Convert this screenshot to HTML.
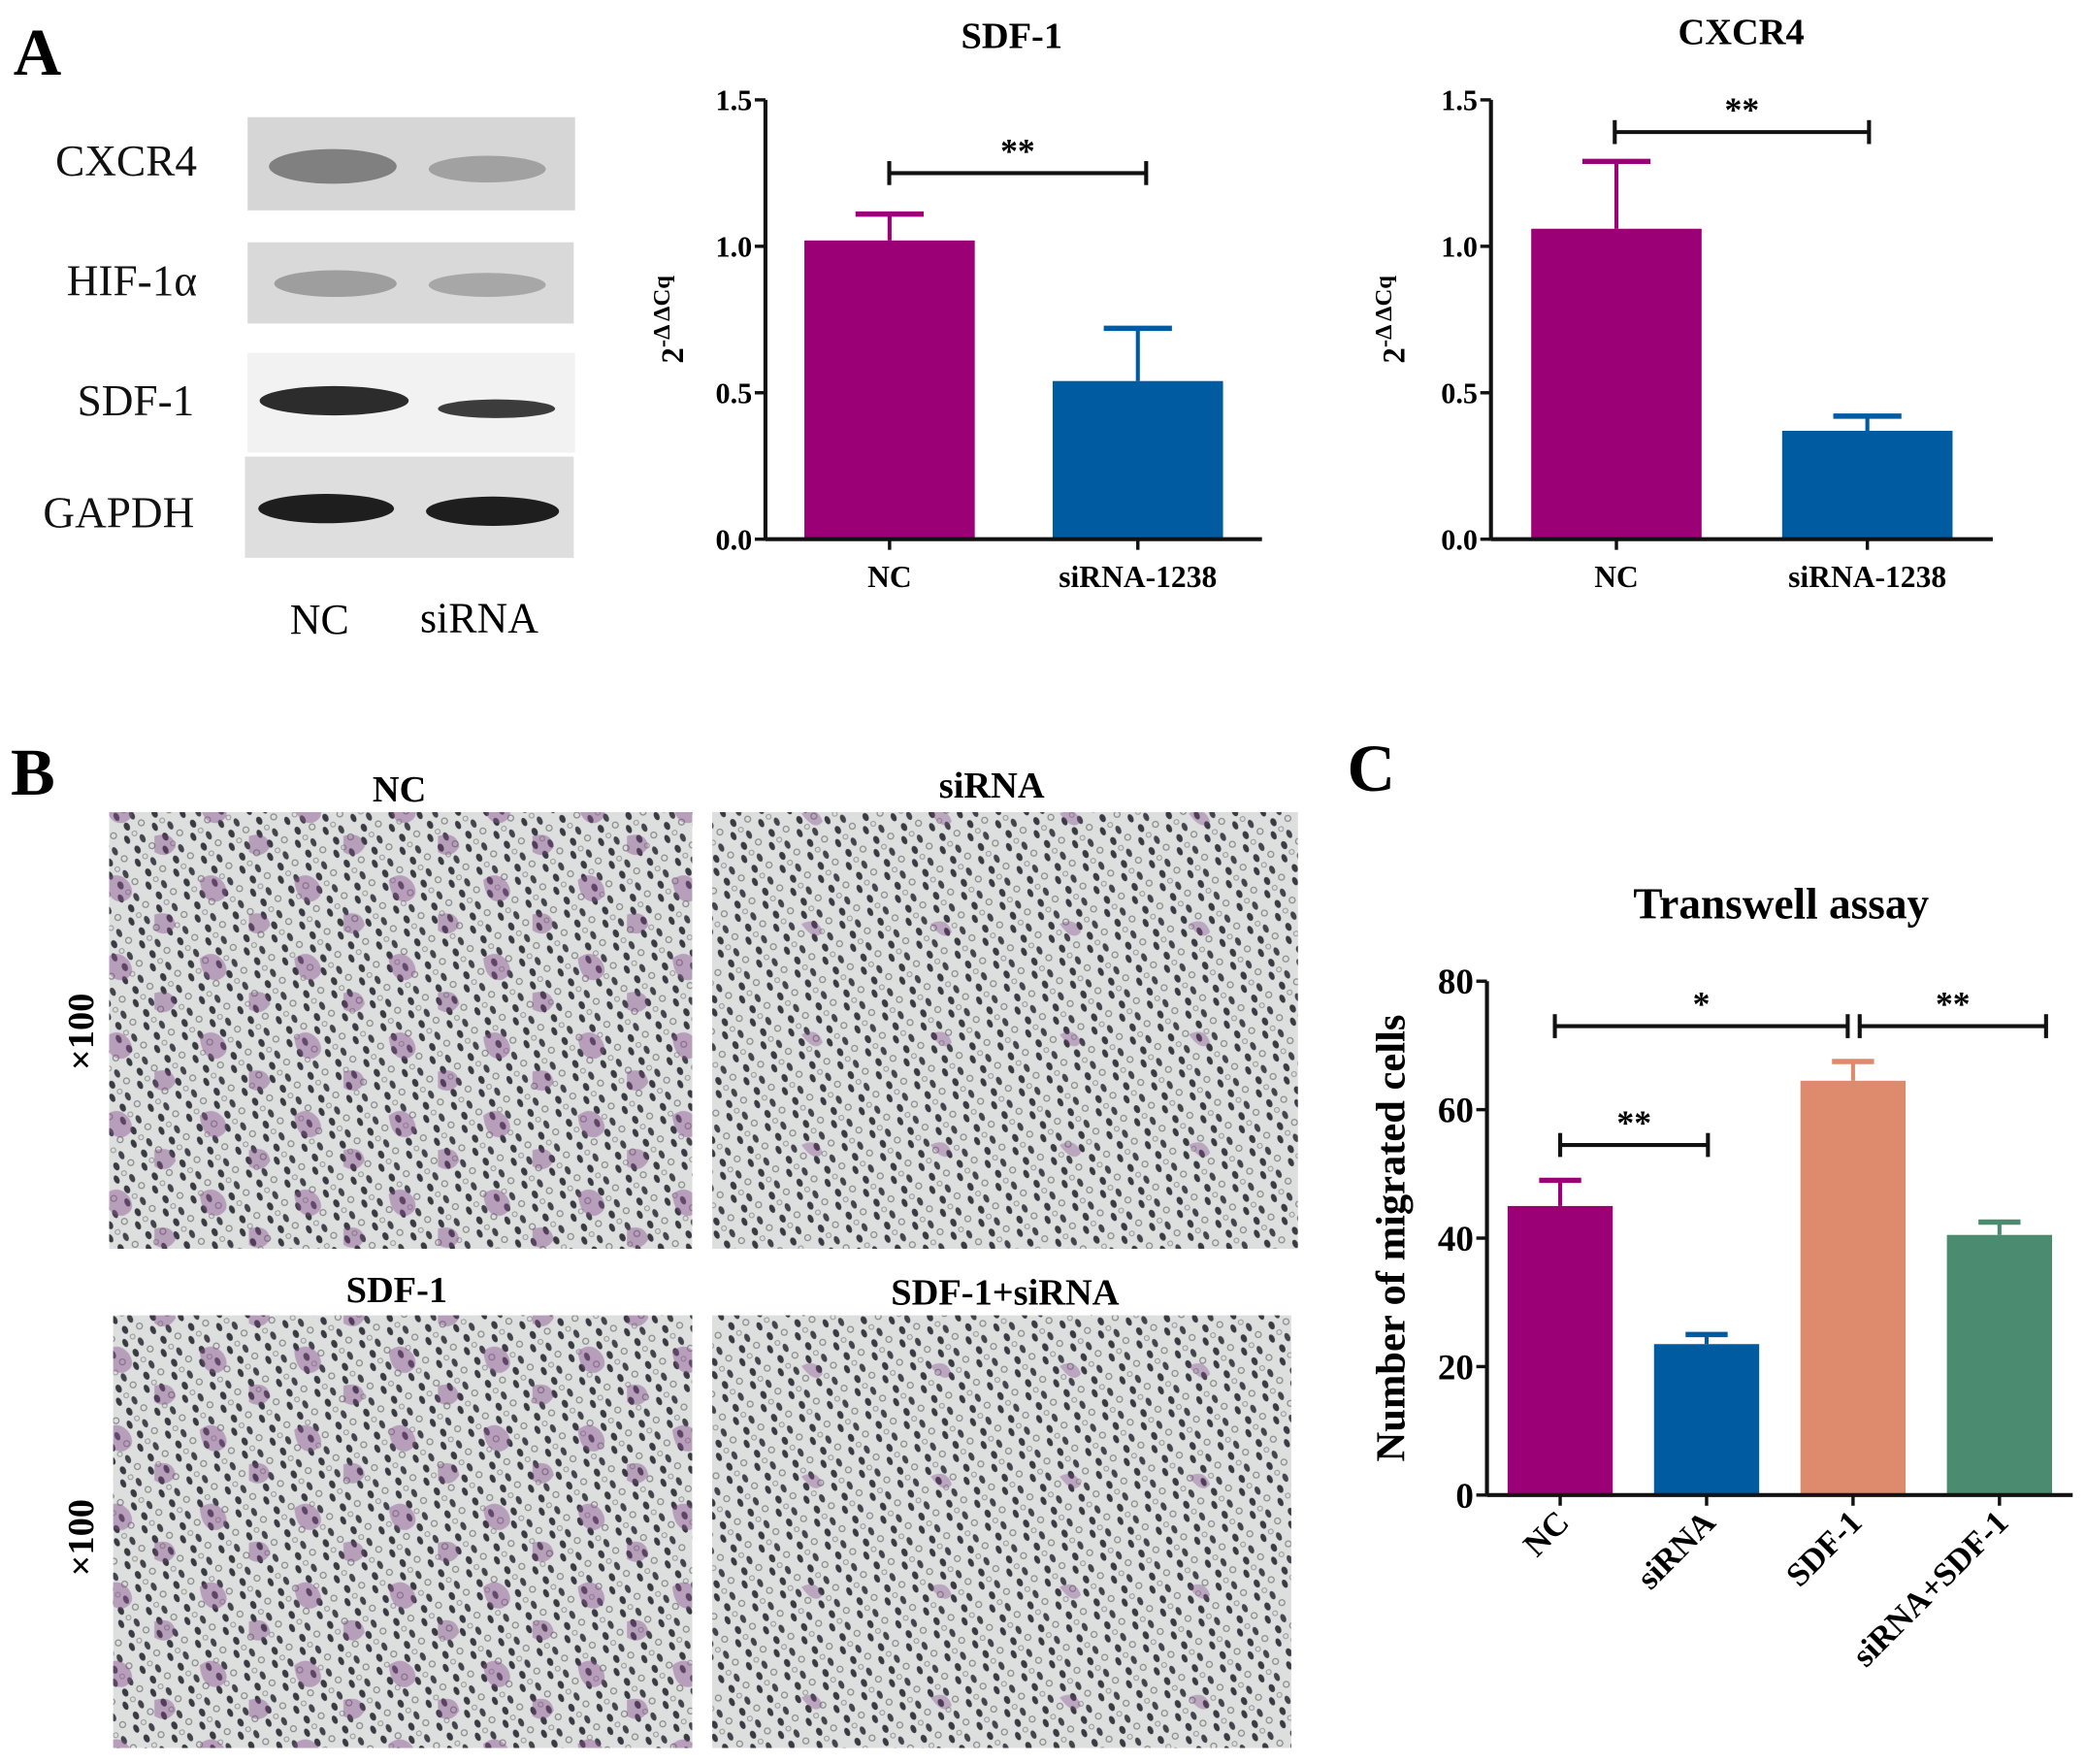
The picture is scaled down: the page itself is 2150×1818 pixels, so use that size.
<!DOCTYPE html>
<html><head><meta charset="utf-8"><style>
html,body{margin:0;padding:0;background:#fff}
svg{display:block}
text{font-family:"Liberation Serif",serif}
</style></head><body>
<svg id="fig" width="2150" height="1818" viewBox="0 0 1567 1325" xmlns="http://www.w3.org/2000/svg">
<defs>
<pattern id="cells" width="23" height="19" patternUnits="userSpaceOnUse" patternTransform="rotate(-25)">
<rect width="23" height="19" fill="#dcdfde"/>
<ellipse cx="4" cy="4" rx="2" ry="3.3" fill="#3a3a42"/>
<ellipse cx="15" cy="8" rx="2" ry="3.3" fill="#44444c"/>
<ellipse cx="8" cy="14" rx="2.2" ry="3.2" fill="#3a3a42"/>
<circle cx="19" cy="16" r="2.2" fill="none" stroke="#888" stroke-width="0.9"/>
<circle cx="11" cy="2" r="1.8" fill="none" stroke="#999" stroke-width="0.8"/>
</pattern>
<pattern id="blobs" width="71" height="59" patternUnits="userSpaceOnUse">
<path d="M8 12 q10 -8 18 2 q6 10 -4 14 q-12 2 -14 -16z" fill="#8a4f90" opacity="0.45"/>
<path d="M45 38 q14 -4 16 8 q-6 10 -16 4z" fill="#7a3f82" opacity="0.4"/>
</pattern>
<pattern id="blobs2" width="97" height="83" patternUnits="userSpaceOnUse">
<path d="M20 30 q12 -6 16 6 q-6 8 -16 -6z" fill="#7a3f82" opacity="0.35"/>
</pattern>
</defs>

<text x="10" y="56" font-size="50" font-weight="bold">A</text>
<text x="8" y="597" font-size="50" font-weight="bold">B</text>
<text x="1012" y="594" font-size="50" font-weight="bold">C</text>

<g>
<rect x="186" y="88" width="246" height="70" fill="#d6d6d6"/>
<ellipse cx="250" cy="125" rx="48" ry="13" fill="#6a6a6a" opacity="0.8"/>
<ellipse cx="366" cy="127" rx="44" ry="10" fill="#8a8a8a" opacity="0.7"/>
<rect x="186" y="182" width="245" height="61" fill="#d9d9d9"/>
<ellipse cx="252" cy="213" rx="46" ry="10" fill="#8e8e8e" opacity="0.8"/>
<ellipse cx="366" cy="214" rx="44" ry="9" fill="#9a9a9a" opacity="0.8"/>
<rect x="186" y="265" width="246" height="75" fill="#f2f2f2"/>
<ellipse cx="251" cy="301" rx="56" ry="11" fill="#2c2c2c"/>
<ellipse cx="373" cy="307" rx="44" ry="7" fill="#3c3c3c"/>
<rect x="184" y="343" width="247" height="76" fill="#dedede"/>
<ellipse cx="245" cy="382" rx="51" ry="11" fill="#1e1e1e"/>
<ellipse cx="370" cy="384" rx="50" ry="11" fill="#1e1e1e"/>
<g font-size="33" text-anchor="end" fill="#111">
<text x="148" y="132">CXCR4</text>
<text x="148" y="222">HIF-1α</text>
<text x="146" y="312">SDF-1</text>
<text x="146" y="396">GAPDH</text>
</g>
<text x="240" y="476" font-size="32" text-anchor="middle">NC</text>
<text x="360" y="475" font-size="32" text-anchor="middle">siRNA</text>
</g>

<g>
<rect x="82" y="610" width="438" height="328" fill="url(#cells)"/>
<rect x="82" y="610" width="438" height="328" fill="url(#blobs)"/>
<rect x="535" y="610" width="440" height="328" fill="url(#cells)"/>
<rect x="535" y="610" width="440" height="328" fill="url(#blobs2)"/>
<rect x="85" y="988" width="435" height="325" fill="url(#cells)"/>
<rect x="85" y="988" width="435" height="325" fill="url(#blobs)"/>
<rect x="535" y="988" width="435" height="325" fill="url(#cells)"/>
<rect x="535" y="988" width="435" height="325" fill="url(#blobs2)"/>
<g font-size="28" font-weight="bold" text-anchor="middle">
<text x="300" y="602">NC</text>
<text x="745" y="599">siRNA</text>
<text x="298" y="978">SDF-1</text>
<text x="755" y="980">SDF-1+siRNA</text>
<text transform="translate(70,775) rotate(-90)">×100</text>
<text transform="translate(70,1155) rotate(-90)">×100</text>
</g>
</g>

<g id="charts"></g>
</svg>
<script>
// SDF-1 qPCR
const sdfCats = ["NC", "siRNA-1238"];
const sdfVals = [1.02, 0.54];
const sdfErr = [1.11, 0.72];
const sdfTicks = ["0.0", "0.5", "1.0", "1.5"];
// CXCR4 qPCR
const cxCats = ["NC", "siRNA-1238"];
const cxVals = [1.06, 0.37];
const cxErr = [1.29, 0.42];
const cxTicks = ["0.0", "0.5", "1.0", "1.5"];
// Transwell
const twCats = ["NC", "siRNA", "SDF-1", "siRNA+SDF-1"];
const twVals = [45, 23.5, 64.5, 40.5];
const twErr = [49, 25, 67.5, 42.5];
const twTicks = ["0", "20", "40", "60", "80"];

const NS = "http://www.w3.org/2000/svg";
const root = document.getElementById("charts");
function mk(tag, attrs, parent) {
  const e = document.createElementNS(NS, tag);
  for (const k in attrs) e.setAttribute(k, attrs[k]);
  (parent || root).appendChild(e);
  return e;
}
function chart(c) {
  const g = mk("g", {});
  
  
  const yv = v => c.y0 - (v / c.ymax) * (c.y0 - c.y1);
  const n = c.cats.length;
  const step = (c.x1 - c.x0) / n;
  const xc = i => c.x0 + step * (i + 0.5);
  c.cats.forEach((cat, i) => {
    const x = xc(i), w = c.bw;
    const er = mk("line", {x1: x, x2: x, y1: yv(c.vals[i]), y2: yv(c.err[i]), stroke: c.colors[i], "stroke-width": 3}, g);
    
    
    const cap = mk("line", {x1: x - w * 0.2, x2: x + w * 0.2, y1: yv(c.err[i]), y2: yv(c.err[i]), stroke: c.colors[i], "stroke-width": 4}, g);
    
    
    const b = mk("rect", {x: x - w / 2, y: yv(c.vals[i]), width: w, height: c.y0 - yv(c.vals[i]), fill: c.colors[i]}, g);
    
    
    mk("line", {x1: x, x2: x, y1: c.y0, y2: c.y0 + 8, stroke: "#111", "stroke-width": 2.5}, g);
    let t;
    if (c.rot) {
      t = mk("text", {transform: `translate(${x + 8},${c.y0 + 22}) rotate(-45)`, "text-anchor": "end", "font-size": c.xfs, "font-weight": "bold"}, g);
    } else {
      t = mk("text", {x: x, y: c.y0 + 36, "text-anchor": "middle", "font-size": c.xfs, "font-weight": "bold"}, g);
    }
    t.textContent = cat;
    
    
  });
  const ya = mk("line", {x1: c.ax, x2: c.ax, y1: c.y1, y2: c.y0, stroke: "#111", "stroke-width": 3}, g);
  
  
  const xa = mk("line", {x1: c.ax, x2: c.x1, y1: c.y0, y2: c.y0, stroke: "#111", "stroke-width": 3}, g);
  
  
  c.ticks.forEach((tl, i) => {
    const v = c.ymax * i / (c.ticks.length - 1);
    mk("line", {x1: c.ax - 8, x2: c.ax, y1: yv(v), y2: yv(v), stroke: "#111", "stroke-width": 2.5}, g);
    const t = mk("text", {x: c.ax - 10, y: yv(v) + c.yfs * 0.35, "text-anchor": "end", "font-size": c.yfs, "font-weight": "bold"}, g);
    t.textContent = tl;
    
    
  });
  const title = mk("text", {x: c.tx, y: c.ty, "text-anchor": "middle", "font-size": c.tfs, "font-weight": "bold"}, g);
  title.textContent = c.title;
  
  
  const yl = mk("text", {transform: `translate(${c.ylx},${c.yly}) rotate(-90)`, "text-anchor": "middle", "font-size": c.ylfs, "font-weight": "bold"}, g);
  
  
  if (c.ylab === "ddcq") {
    yl.innerHTML = '2<tspan dy="-10" font-size="18">-Δ ΔCq</tspan>';
  } else yl.textContent = c.ylab;
  c.sig.forEach(s => {
    const xa_ = s.xa, xb = s.xb, y = yv(s.v);
    mk("line", {x1: xa_, x2: xb, y1: y, y2: y, stroke: "#111", "stroke-width": 3}, g);
    mk("line", {x1: xa_, x2: xa_, y1: y - 9, y2: y + 9, stroke: "#111", "stroke-width": 3}, g);
    mk("line", {x1: xb, x2: xb, y1: y - 9, y2: y + 9, stroke: "#111", "stroke-width": 3}, g);
    const t = mk("text", {x: (xa_ + xb) / 2, y: y - 8, "text-anchor": "middle", "font-size": 26, "font-weight": "bold"}, g);
    t.textContent = s.label;
    
    
  });
}
chart({name: "sdf1-chart", cats: sdfCats, vals: sdfVals, err: sdfErr, ticks: sdfTicks, ymax: 1.5,
  ax: 575, x0: 575, x1: 948, y0: 405, y1: 75, bw: 128, colors: ["#9c0077", "#005ba0"],
  xfs: 23, yfs: 22, title: "SDF-1", tx: 760, ty: 36, tfs: 28, ylab: "ddcq", ylx: 513, yly: 240, ylfs: 24,
  sig: [{xa: 668, xb: 861, v: 1.25, label: "**"}]});
chart({name: "cxcr4-chart", cats: cxCats, vals: cxVals, err: cxErr, ticks: cxTicks, ymax: 1.5,
  ax: 1120, x0: 1120, x1: 1497, y0: 405, y1: 75, bw: 128, colors: ["#9c0077", "#005ba0"],
  xfs: 23, yfs: 22, title: "CXCR4", tx: 1308, ty: 33, tfs: 28, ylab: "ddcq", ylx: 1055, yly: 240, ylfs: 24,
  sig: [{xa: 1213, xb: 1404, v: 1.39, label: "**"}]});
chart({name: "transwell-chart", cats: twCats, vals: twVals, err: twErr, ticks: twTicks, ymax: 80,
  ax: 1117, x0: 1117, x1: 1557, y0: 1123, y1: 737, bw: 79, colors: ["#9c0077", "#005ba0", "#dd8b6c", "#4b8c70"],
  xfs: 25, yfs: 27, title: "Transwell assay", tx: 1338, ty: 690, tfs: 33, ylab: "Number of migrated cells", ylx: 1055, yly: 930, ylfs: 31,
  sig: [{xa: 1172, xb: 1283, v: 54.5, label: "**"}, {xa: 1168, xb: 1388, v: 73, label: "*"}, {xa: 1397, xb: 1537, v: 73, label: "**"}],
  rot: true});
</script>
</body></html>
